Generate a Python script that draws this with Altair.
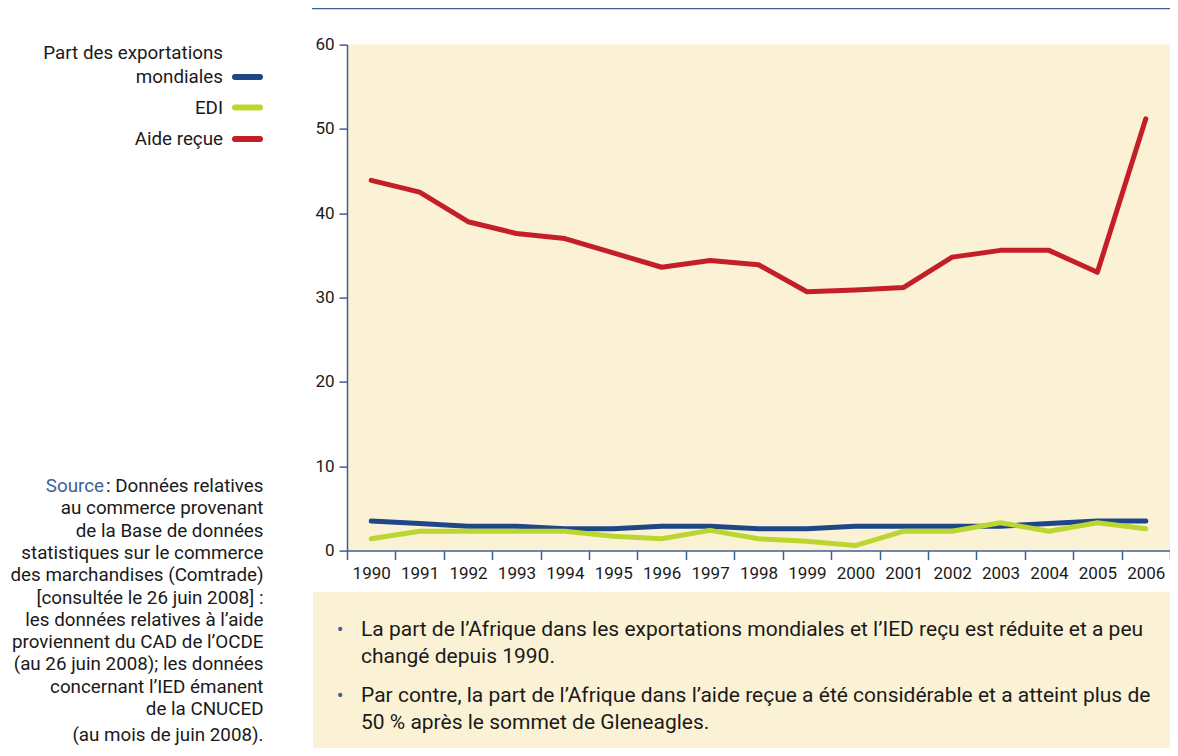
import altair as alt
import pandas as pd

# ---- data ----
years = ["1990", "1991", "1992", "1993", "1994", "1995", "1996", "1997", "1998",
         "1999", "2000", "2001", "2002", "2003", "2004", "2005", "2006"]
series_names = ["Part des exportations mondiales", "EDI", "Aide reçue"]
export_share = [3.5, 3.2, 2.9, 2.9, 2.6, 2.6, 2.9, 2.9, 2.6, 2.6, 2.9, 2.9, 2.9, 2.9, 3.2, 3.5, 3.5]
edi_share = [1.4, 2.3, 2.3, 2.3, 2.3, 1.7, 1.4, 2.4, 1.4, 1.1, 0.6, 2.3, 2.3, 3.3, 2.3, 3.3, 2.6]
aid_share = [43.9, 42.5, 39.0, 37.6, 37.0, 35.3, 33.6, 34.4, 33.9, 30.7, 30.9, 31.2, 34.8, 35.6, 35.6, 33.0, 51.2]
y_ticks = [0, 10, 20, 30, 40, 50, 60]

source_lines = [
    "au commerce provenant",
    "de la Base de données",
    "statistiques sur le commerce",
    "des marchandises (Comtrade)",
    "[consultée le 26 juin 2008] :",
    "les données relatives à l’aide",
    "proviennent du CAD de l’OCDE",
    "(au 26 juin 2008); les données",
    "concernant l’IED émanent",
    "de la CNUCED",
]
source_last = "(au mois de juin 2008)."
bullet_lines = [
    ["La part de l’Afrique dans les exportations mondiales et l’IED reçu est réduite et a peu",
     "changé depuis 1990."],
    ["Par contre, la part de l’Afrique dans l’aide reçue a été considérable et a atteint plus de",
     "50 % après le sommet de Gleneagles."],
]

# ---- styles ----
FONT = "Roboto"
CREAM = "#FBF2D5"
AXIS = "#3D5F96"
COLORS = ["#1F4788", "#BCD631", "#C41F27"]
TEXT = "#1a1a1a"
SIDE_FS = 18.8
BODY_FS = 21

W, H = 823, 506
OX, OY = 347, 44.6  # page position of plot origin


def px(x):
    return x - OX


def py(y):
    return y - OY


rows = []
for name, vals in zip(series_names, [export_share, edi_share, aid_share]):
    for yr, v in zip(years, vals):
        rows.append({"year": yr, "value": v, "series": name})
df = pd.DataFrame(rows)

lines = alt.Chart(df).mark_line(strokeWidth=5, strokeCap="round", strokeJoin="round").encode(
    x=alt.X("year:O", bandPosition=0.5,
            scale=alt.Scale(type="band", paddingInner=0, paddingOuter=0),
            axis=alt.Axis(title=None, labelAngle=0, tickBand="extent",
                          domainColor=AXIS, tickColor=AXIS, domainWidth=1.5, tickWidth=1.5,
                          tickSize=9, labelFont=FONT, labelFontSize=17, labelColor=TEXT,
                          labelPadding=6)),
    y=alt.Y("value:Q", scale=alt.Scale(domain=[0, 60], nice=False, zero=True),
            axis=alt.Axis(title=None, values=y_ticks, grid=False,
                          domainColor=AXIS, tickColor=AXIS, domainWidth=1.5, tickWidth=1.5,
                          tickSize=8, labelFont=FONT, labelFontSize=17, labelColor=TEXT,
                          labelPadding=5)),
    color=alt.Color("series:N", scale=alt.Scale(domain=series_names, range=COLORS), legend=None),
    order=alt.Order("series:N"),
)

one = pd.DataFrame({"k": [0]})
layers = []

# top rule
layers.append(alt.Chart(one).mark_rule(color=AXIS, strokeWidth=1.5).encode(
    x=alt.value(px(312)), x2=alt.value(px(1176)), y=alt.value(py(8.5))))

# bottom box
layers.append(alt.Chart(one).mark_rect(color=CREAM).encode(
    x=alt.value(px(313)), x2=alt.value(px(1176)), y=alt.value(py(592)), y2=alt.value(py(760))))

# legend
leg_y = [77, 107.5, 139]
layers.append(alt.Chart(one).mark_text(text="Part des exportations", align="right", baseline="middle",
                                       font=FONT, fontSize=SIDE_FS, color=TEXT).encode(
    x=alt.value(px(223)), y=alt.value(py(53.3))))
leg_labels = ["mondiales", "EDI", "Aide reçue"]
for lab, col, yy in zip(leg_labels, COLORS, leg_y):
    layers.append(alt.Chart(one).mark_text(text=lab, align="right", baseline="middle",
                                           font=FONT, fontSize=SIDE_FS, color=TEXT).encode(
        x=alt.value(px(223)), y=alt.value(py(yy))))
    layers.append(alt.Chart(one).mark_rule(color=col, strokeWidth=6, strokeCap="round").encode(
        x=alt.value(px(235)), x2=alt.value(px(260)), y=alt.value(py(yy))))

# source
layers.append(alt.Chart(one).mark_text(text="Source", align="right", baseline="middle",
                                       font=FONT, fontSize=SIDE_FS, color=AXIS).encode(
    x=alt.value(px(104)), y=alt.value(py(486))))
layers.append(alt.Chart(one).mark_text(text=": Données relatives", align="right", baseline="middle",
                                       font=FONT, fontSize=SIDE_FS, color=TEXT).encode(
    x=alt.value(px(263.5)), y=alt.value(py(486))))
for i, t in enumerate(source_lines):
    layers.append(alt.Chart(one).mark_text(text=t, align="right", baseline="middle",
                                           font=FONT, fontSize=SIDE_FS, color=TEXT).encode(
        x=alt.value(px(263.5)), y=alt.value(py(508.3 + i * 22.3))))
layers.append(alt.Chart(one).mark_text(text=source_last, align="right", baseline="middle",
                                       font=FONT, fontSize=SIDE_FS, color=TEXT).encode(
    x=alt.value(px(263.5)), y=alt.value(py(735))))

# bullets
bullet_y = [630, 696]
for block, yy in zip(bullet_lines, bullet_y):
    layers.append(alt.Chart(one).mark_text(text="•", align="center", baseline="middle",
                                           font=FONT, fontSize=20, color=AXIS).encode(
        x=alt.value(px(340)), y=alt.value(py(yy))))
    for j, t in enumerate(block):
        layers.append(alt.Chart(one).mark_text(text=t, align="left", baseline="middle",
                                               font=FONT, fontSize=BODY_FS, color=TEXT).encode(
            x=alt.value(px(361)), y=alt.value(py(yy + j * 27))))

chart = alt.layer(*layers, lines).properties(
    width=W, height=H,
    autosize=alt.AutoSizeParams(type="none"),
    padding={"left": OX - 8, "top": OY - 8, "right": 0, "bottom": 740 - (OY - 8) - H},
    background="white",
).configure_view(fill=CREAM, stroke=None)

chart.save("out.html", embed_options={"renderer": "svg", "actions": False})
